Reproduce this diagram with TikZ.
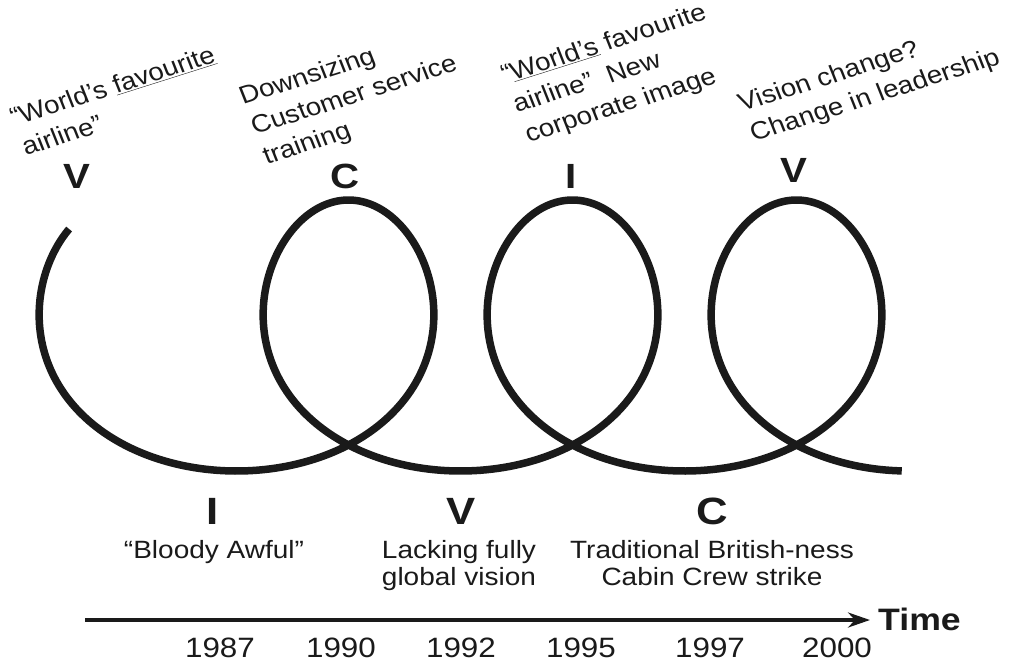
\documentclass[tikz,border=0pt]{standalone}
\usepackage{fontspec}
\setmainfont{Liberation Sans}
\newfontfamily\hfont[FakeStretch=1.12]{Liberation Sans}
\newfontfamily\bfont[FakeStretch=1.15]{Liberation Sans Bold}
\newfontfamily\rfont{Liberation Sans}
\usetikzlibrary{arrows.meta}
\definecolor{ink}{HTML}{1A1A1A}
\begin{document}
\begin{tikzpicture}[x=1pt,y=-1pt,
  toptxt/.style={anchor=base west, inner sep=0pt, text=ink, xscale=1.12, rotate=19.5,
    font=\rfont\fontsize{24.8}{31.5}\selectfont},
  bottxt/.style={anchor=base, inner sep=0pt, text=ink, font=\hfont\fontsize{25}{27.5}\selectfont},
  topletter/.style={anchor=base, inner sep=0pt, text=ink, font=\bfont\fontsize{35}{35}\selectfont},
  botletter/.style={anchor=base, inner sep=0pt, text=ink, font=\bfont\fontsize{38}{38}\selectfont},
  yearlbl/.style={anchor=base, inner sep=0pt, text=ink, font=\hfont\fontsize{28}{28}\selectfont},
  spiral/.style={draw=ink, line width=7.5pt, line cap=butt},
  timeline/.style={draw=ink, line width=4pt, -{Stealth[length=22pt,width=15pt]}},
]
\useasboundingbox (0,0) rectangle (1011,662);

% the looping curve
\draw[spiral] plot[domain=-2.475:18.82, samples=700, variable=\t]
  ({236.5+35.65*\t+139.8*sin(\t r)+7.5*sin(2*\t r)}, {335.5+135.5*cos(\t r)});

% top annotations
\node[toptxt] (t1) at (14,126) {\begin{tabular}[t]{@{}l@{}}“World’s \underline{favourite}\\ airline”\end{tabular}};
\node[toptxt] (t2) at (243,105) {\begin{tabular}[t]{@{}l@{}}Downsizing\\ Customer service\\ training\end{tabular}};
\node[toptxt] (t3) at (505,83) {\begin{tabular}[t]{@{}l@{}}“\underline{World’s} favourite\\ airline”\ \ New\\ corporate image\end{tabular}};
\node[toptxt] (t4) at (742,112) {\begin{tabular}[t]{@{}l@{}}Vision change?\\ Change in leadership\end{tabular}};

% top letters
\node[topletter] (L1) at (77,188) {V};
\node[topletter] (L2) at (345,188) {C};
\node[topletter] (L3) at (571,188) {I};
\node[topletter] (L4) at (794,182) {V};

% bottom letters
\node[botletter] (B1) at (213,524) {I};
\node[botletter] (B2) at (461,524) {V};
\node[botletter] (B3) at (712,524) {C};

% bottom annotations
\node[bottxt] (b1) at (214,558) {\begin{tabular}[t]{@{}c@{}}“Bloody Awful”\end{tabular}};
\node[bottxt] (b2) at (459,558) {\begin{tabular}[t]{@{}c@{}}Lacking fully\\ global vision\end{tabular}};
\node[bottxt] (b3) at (712,558) {\begin{tabular}[t]{@{}c@{}}Traditional British-ness\\ Cabin Crew strike\end{tabular}};

% time axis
\coordinate (ts) at (85,620);
\coordinate (te) at (870,620);
\draw[timeline] (ts) -- (te);
\node[anchor=base west, inner sep=0pt, text=ink, font=\bfont\fontsize{31}{31}\selectfont] (time) at (878,630) {Time};

% years
\node[yearlbl] (y1) at (220,657) {1987};
\node[yearlbl] (y2) at (341,657) {1990};
\node[yearlbl] (y3) at (461,657) {1992};
\node[yearlbl] (y4) at (581,657) {1995};
\node[yearlbl] (y5) at (710,657) {1997};
\node[yearlbl] (y6) at (837,657) {2000};
\end{tikzpicture}
\end{document}
